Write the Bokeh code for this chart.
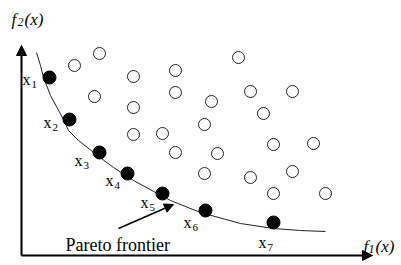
from bokeh.plotting import figure
from bokeh.models import Range1d, Arrow, NormalHead
from bokeh.core.properties import value
from bokeh.embed import file_html
from bokeh.resources import INLINE

# Pareto-optimal solutions x1..x7 (f1, f2)
pareto_f1 = [2.8, 4.8, 7.8, 10.6, 14.1, 18.4, 25.2]
pareto_f2 = [17.8, 13.6, 10.3, 8.2, 6.2, 4.5, 3.3]
pareto_sub = ["1", "2", "3", "4", "5", "6", "7"]

# dominated solutions (hollow circles)
dom_f1 = [7.8, 5.3, 11.2, 15.4, 21.7, 7.3, 15.4, 11.2, 19.0, 22.9, 27.1, 24.2,
          11.2, 14.1, 18.3, 15.4, 19.6, 25.2, 29.2, 18.3, 22.9, 27.1, 25.2, 30.4]
dom_f2 = [20.2, 19.0, 17.9, 18.5, 19.8, 15.9, 16.3, 14.8, 15.4, 16.4, 16.4, 14.2,
          12.1, 12.2, 13.1, 10.3, 10.2, 11.1, 11.2, 8.2, 7.8, 8.4, 6.2, 6.2]

# Pareto frontier curve
front_f1 = [1.5, 1.9, 2.2, 2.9, 4.2, 4.7, 5.7, 7.6, 9.2, 11.2, 13.6, 14.9, 17.9,
            21.9, 25.2, 27.9, 30.4]
front_f2 = [20.3, 19.0, 17.8, 16.0, 13.6, 12.5, 11.5, 10.0, 8.8, 7.5, 6.2, 5.5,
            4.3, 3.2, 2.7, 2.5, 2.4]

# axis extents
F1_AXIS_END = 35.1
F2_AXIS_END = 21.0

# label offsets (screen px) of "x_i" from its point
label_dx = [-27, -26, -25, -22, -22, -22, -15]
label_dy = [2, 3, 8, 7, 9, 12, 20]

SERIF = value("Liberation Serif")

p = figure(width=401, height=265, x_range=Range1d(-2.1, 38.0), y_range=Range1d(-1.0, 25.5),
           output_backend="svg", toolbar_location=None, x_axis_type=None, y_axis_type=None,
           min_border=0)
p.outline_line_color = None
p.background_fill_color = "white"
p.border_fill_color = "white"

# axes with arrows
p.add_layout(Arrow(end=NormalHead(size=10, fill_color="black", line_color="black"),
                   x_start=0, y_start=0, x_end=0, y_end=F2_AXIS_END,
                   line_width=2, line_color="black"))
p.add_layout(Arrow(end=NormalHead(size=10, fill_color="black", line_color="black"),
                   x_start=0, y_start=0, x_end=F1_AXIS_END, y_end=0,
                   line_width=2, line_color="black"))

# frontier
p.line(front_f1, front_f2, line_color="#222222", line_width=1)

# points
p.scatter(dom_f1, dom_f2, size=12, fill_color="white", line_color="#222222", line_width=1)
p.scatter(pareto_f1, pareto_f2, size=13, fill_color="black", line_color="black")

# x_i labels
p.text(x=pareto_f1, y=pareto_f2, text=["x"] * 7, x_offset=label_dx, y_offset=label_dy,
       text_font=SERIF, text_font_size="16px", text_baseline="alphabetic",
       text_align="left", text_color="black")
p.text(x=pareto_f1, y=pareto_f2, text=pareto_sub,
       x_offset=[d + 9 for d in label_dx], y_offset=[d + 5 for d in label_dy],
       text_font=SERIF, text_font_size="11px", text_baseline="alphabetic",
       text_align="left", text_color="black")

# Pareto frontier label + arrow
p.text(x=[4.4], y=[1.1], text=["Pareto frontier"], text_font=SERIF, text_font_size="18px",
       text_baseline="alphabetic", text_align="left", text_color="black")
p.add_layout(Arrow(end=NormalHead(size=9, fill_color="black", line_color="black"),
                   x_start=9.7, y_start=2.7, x_end=15.2, y_end=5.1,
                   line_width=1.5, line_color="black"))

# axis titles
def axis_title(x0, y0, sub, xs, ys, xr):
    p.text(x=[x0], y=[y0], text=["f"], text_font=SERIF, text_font_style="italic",
           text_font_size="17px", text_baseline="alphabetic", text_color="black")
    p.text(x=[xs], y=[ys], text=[sub], text_font=SERIF, text_font_style="italic",
           text_font_size="12px", text_baseline="alphabetic", text_color="black")
    p.text(x=[xr], y=[y0], text=["(x)"], text_font=SERIF, text_font_style="italic",
           text_font_size="17px", text_baseline="alphabetic", text_color="black")

axis_title(-1.0, 23.6, "2", -0.4, 23.4, 0.3)
axis_title(34.2, 0.9, "1", 34.7, 0.7, 35.4)

open("out.html", "w").write(file_html(p, INLINE))
